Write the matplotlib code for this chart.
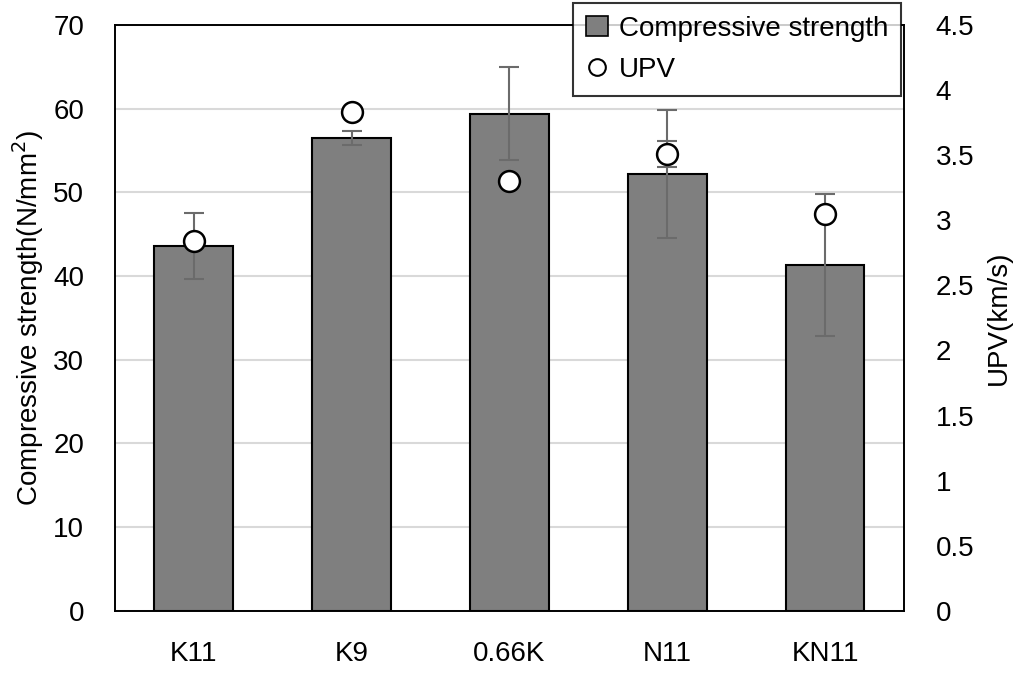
import numpy as np
import matplotlib.pyplot as plt
from matplotlib.lines import Line2D
from matplotlib.patches import Patch

plt.rcParams['font.family'] = ['Liberation Sans', 'DejaVu Sans']

# data
mixes = ["K11", "K9", "0.66K", "N11", "KN11"]
strength = [43.6, 56.5, 59.4, 52.2, 41.3]
strength_err = [3.95, 0.85, 5.55, 7.6, 8.45]
upv = [2.84, 3.83, 3.30, 3.51, 3.05]
upv_err = [0, 0, 0, 0.1, 0]

fs = 20

fig = plt.figure(figsize=(10.26, 6.75), dpi=100)
ax = fig.add_axes([0.112, 0.095, 0.769, 0.868])
ax2 = ax.twinx()

x = np.arange(len(mixes))
ax.bar(x, strength, width=0.5, color="#7f7f7f", edgecolor="black", lw=1.5, zorder=2)
ax.errorbar(x, strength, yerr=strength_err, fmt="none", ecolor="#6b6b6b",
            elinewidth=1.5, capsize=7, capthick=1.5, zorder=3)

ax2.errorbar(x, upv, yerr=upv_err, fmt="none", ecolor="#6b6b6b",
             elinewidth=1.5, capsize=7, capthick=1.5, zorder=3)
ax2.plot(x, upv, "o", ms=15, mfc="white", mec="black", mew=1.8, ls="none", zorder=4)

ax.set_xlim(-0.5, 4.5)
ax.set_ylim(0, 70)
ax.set_yticks(np.arange(0, 71, 10))
ax2.set_ylim(0, 4.5)
ax2.set_yticks(np.arange(0, 4.51, 0.5))
ax2.set_yticklabels([f"{v:g}" for v in np.arange(0, 4.51, 0.5)])
ax.set_xticks(x)
ax.set_xticklabels(mixes)

ax.grid(axis="y", color="#d9d9d9", lw=1.5, zorder=0)
ax.set_axisbelow(True)

for a in (ax, ax2):
    a.tick_params(length=0, labelsize=fs)
    for s in a.spines.values():
        s.set_color("black")
        s.set_linewidth(1.2)
ax.tick_params(axis="y", pad=22)
ax2.tick_params(axis="y", pad=23)
ax.tick_params(axis="x", pad=22)

ax.set_ylabel("Compressive strength(N/mm$^2$)", fontsize=fs, labelpad=5)
ax2.set_ylabel("UPV(km/s)", fontsize=fs, labelpad=8)

handles = [Patch(facecolor="#7f7f7f", edgecolor="black", lw=1.2),
           Line2D([], [], marker="o", ls="none", ms=12, mfc="white", mec="black", mew=1.5)]
leg = fig.legend(handles, ["Compressive strength", "UPV"], loc="upper right",
                 bbox_to_anchor=(0.878, 0.995), borderaxespad=0, fontsize=fs,
                 frameon=True, fancybox=False, edgecolor="black", handlelength=0.8,
                 handletextpad=0.4, borderpad=0.45, labelspacing=0.55)
leg.get_frame().set_linewidth(1.5)
leg.set_zorder(10)

fig.savefig("out.png", dpi=100)
